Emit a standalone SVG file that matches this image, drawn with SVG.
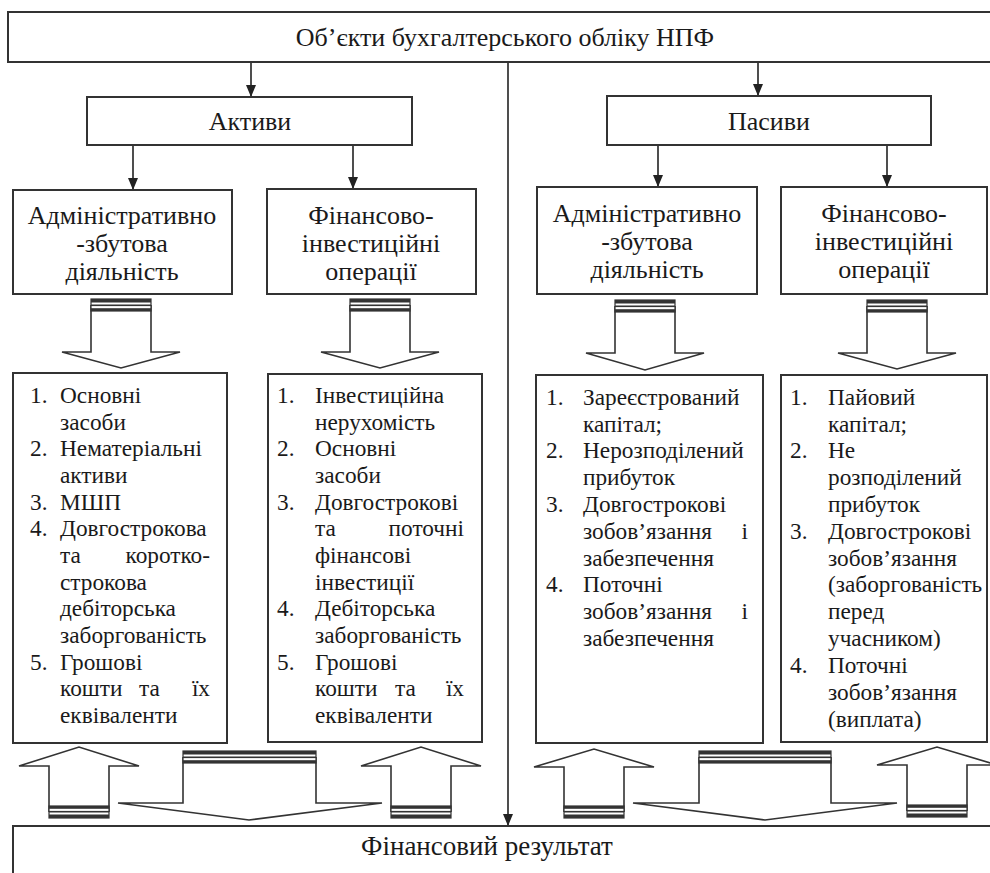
<svg xmlns="http://www.w3.org/2000/svg" xmlns:xlink="http://www.w3.org/1999/xlink" width="990" height="873" viewBox="0 0 990 873">
<style>
.box{fill:#fff;stroke:#333;stroke-width:2}
.ln{fill:none;stroke:#222;stroke-width:1.6}
.ba{fill:#fff;stroke:#333;stroke-width:1.6;stroke-linejoin:miter}
.dk{fill:#333}
.h{font-size:26px;text-anchor:middle}
.li{font-size:23.3px}
.e{text-anchor:end}
</style>
<defs>
<marker id="ah" viewBox="0 0 12 10" refX="12" refY="5" markerWidth="12" markerHeight="10" markerUnits="userSpaceOnUse" orient="auto">
<path d="M0,0 L12,5 L0,10 z" fill="#222"/>
</marker>
<g id="str">
<rect x="0" y="0" width="60" height="12" fill="#fff" stroke="#333" stroke-width="1.2"/>
<rect x="0" y="0" width="60" height="3.5" class="dk"/>
<rect x="0" y="5.5" width="60" height="1.6" class="dk"/>
<rect x="0" y="9.2" width="60" height="2.8" class="dk"/>
</g>
</defs>

<g id="connectors">
<line class="ln" x1="251" y1="62" x2="251" y2="97" marker-end="url(#ah)"/>
<line class="ln" x1="758" y1="62" x2="758" y2="96" marker-end="url(#ah)"/>
<line class="ln" x1="508" y1="62" x2="508" y2="826" marker-end="url(#ah)"/>
<line class="ln" x1="133" y1="145" x2="133" y2="190" marker-end="url(#ah)"/>
<line class="ln" x1="353" y1="145" x2="353" y2="189" marker-end="url(#ah)"/>
<line class="ln" x1="658" y1="145" x2="658" y2="187" marker-end="url(#ah)"/>
<line class="ln" x1="887" y1="145" x2="887" y2="187" marker-end="url(#ah)"/>

<path class="ba" d="M91,305 L91,352 L62,352 L121,368 L180,352 L151,352 L151,305"/>
<use xlink:href="#str" transform="translate(91,299)"/>
<path class="ba" d="M350,305 L350,352 L321,352 L380,368 L439,352 L410,352 L410,305"/>
<use xlink:href="#str" transform="translate(350,299)"/>
<path class="ba" d="M615,306 L615,353 L586,353 L645,370 L704,353 L675,353 L675,306"/>
<use xlink:href="#str" transform="translate(615,300)"/>
<path class="ba" d="M867,306 L867,353 L838,353 L897,369 L956,353 L927,353 L927,306"/>
<use xlink:href="#str" transform="translate(867,300)"/>

<path class="ba" d="M49,812 L49,766 L19,766 L79,747 L139,766 L109,766 L109,812"/>
<use xlink:href="#str" transform="translate(49,818) scale(1,-1)"/>
<path class="ba" d="M391,812 L391,766 L361,766 L421,747 L481,766 L451,766 L451,812"/>
<use xlink:href="#str" transform="translate(391,818) scale(1,-1)"/>
<path class="ba" d="M564,812 L564,767 L534,767 L594,749 L654,767 L624,767 L624,812"/>
<use xlink:href="#str" transform="translate(564,818) scale(1,-1)"/>
<path class="ba" d="M907,811 L907,765 L877,765 L937,747 L997,765 L967,765 L967,811"/>
<use xlink:href="#str" transform="translate(907,817) scale(1,-1)"/>

<path class="ba" d="M183,757 L183,803 L118,803 L249,820 L382,803 L316,803 L316,757"/>
<rect x="183" y="751" width="133" height="12" fill="#fff" stroke="#333" stroke-width="1.2"/>
<rect x="183" y="751" width="133" height="3.5" class="dk"/>
<rect x="183" y="756.5" width="133" height="1.6" class="dk"/>
<rect x="183" y="760.2" width="133" height="2.8" class="dk"/>
<path class="ba" d="M699,757 L699,803 L633,803 L765,820 L897,803 L831,803 L831,757"/>
<rect x="699" y="751" width="132" height="12" fill="#fff" stroke="#333" stroke-width="1.2"/>
<rect x="699" y="751" width="132" height="3.5" class="dk"/>
<rect x="699" y="756.5" width="132" height="1.6" class="dk"/>
<rect x="699" y="760.2" width="132" height="2.8" class="dk"/>
</g>

<g font-family="'Liberation Serif', 'Times New Roman', serif" fill="#1a1a1a">
<g id="top">
<rect class="box" x="8" y="12" width="990" height="50"/>
<text class="h" x="505" y="46">Об’єкти бухгалтерського обліку НПФ</text>
</g>

<g id="aktyvy">
<rect class="box" x="87" y="97" width="325" height="48"/>
<text class="h" x="250" y="130">Активи</text>
</g>
<g id="pasyvy">
<rect class="box" x="607" y="96" width="324" height="49"/>
<text class="h" x="769" y="130">Пасиви</text>
</g>

<g id="a-admin">
<rect class="box" x="13" y="190" width="219" height="104"/>
<text class="h" x="122" y="224">Адміністративно</text>
<text class="h" x="122" y="252">-збутова</text>
<text class="h" x="122" y="280">діяльність</text>
</g>
<g id="a-fin">
<rect class="box" x="267" y="189" width="209" height="105"/>
<text class="h" x="371" y="224">Фінансово-</text>
<text class="h" x="371" y="252">інвестиційні</text>
<text class="h" x="371" y="280">операції</text>
</g>
<g id="p-admin">
<rect class="box" x="537" y="187" width="220" height="107"/>
<text class="h" x="647" y="222">Адміністративно</text>
<text class="h" x="647" y="250">-збутова</text>
<text class="h" x="647" y="278">діяльність</text>
</g>
<g id="p-fin">
<rect class="box" x="781" y="187" width="206" height="107"/>
<text class="h" x="884" y="222">Фінансово-</text>
<text class="h" x="884" y="250">інвестиційні</text>
<text class="h" x="884" y="278">операції</text>
</g>

<g id="a-admin-list">
<rect class="box" x="13" y="373" width="214" height="370"/>
<text class="li" x="30" y="403">1.</text><text class="li" x="60" y="403">Основні</text>
<text class="li" x="60" y="430">засоби</text>
<text class="li" x="30" y="456">2.</text><text class="li" x="60" y="456">Нематеріальні</text>
<text class="li" x="60" y="483">активи</text>
<text class="li" x="30" y="510">3.</text><text class="li" x="60" y="510">МШП</text>
<text class="li" x="30" y="536">4.</text><text class="li" x="60" y="536">Довгострокова</text>
<text class="li" x="60" y="563">та</text><text class="li e" x="210" y="563">коротко-</text>
<text class="li" x="60" y="590">строкова</text>
<text class="li" x="60" y="616">дебіторська</text>
<text class="li" x="60" y="643">заборгованість</text>
<text class="li" x="30" y="670">5.</text><text class="li" x="60" y="670">Грошові</text>
<text class="li" x="60" y="696">кошти</text><text class="li" x="139" y="696">та</text><text class="li e" x="210" y="696">їх</text>
<text class="li" x="60" y="723">еквіваленти</text>
</g>

<g id="a-fin-list">
<rect class="box" x="268" y="374" width="214" height="368"/>
<text class="li" x="277" y="403">1.</text><text class="li" x="315" y="403">Інвестиційна</text>
<text class="li" x="315" y="430">нерухомість</text>
<text class="li" x="277" y="456">2.</text><text class="li" x="315" y="456">Основні</text>
<text class="li" x="315" y="483">засоби</text>
<text class="li" x="277" y="510">3.</text><text class="li" x="315" y="510">Довгострокові</text>
<text class="li" x="315" y="536">та</text><text class="li e" x="464" y="536">поточні</text>
<text class="li" x="315" y="563">фінансові</text>
<text class="li" x="315" y="590">інвестиції</text>
<text class="li" x="277" y="616">4.</text><text class="li" x="315" y="616">Дебіторська</text>
<text class="li" x="315" y="643">заборгованість</text>
<text class="li" x="277" y="670">5.</text><text class="li" x="315" y="670">Грошові</text>
<text class="li" x="315" y="696">кошти</text><text class="li" x="395" y="696">та</text><text class="li e" x="464" y="696">їх</text>
<text class="li" x="315" y="723">еквіваленти</text>
</g>

<g id="p-admin-list">
<rect class="box" x="536" y="375" width="227" height="368"/>
<text class="li" x="546" y="405">1.</text><text class="li" x="583" y="405">Зареєстрований</text>
<text class="li" x="583" y="432">капітал;</text>
<text class="li" x="546" y="458">2.</text><text class="li" x="583" y="458">Нерозподілений</text>
<text class="li" x="583" y="485">прибуток</text>
<text class="li" x="546" y="512">3.</text><text class="li" x="583" y="512">Довгострокові</text>
<text class="li" x="583" y="539">зобов’язання</text><text class="li e" x="748" y="539">і</text>
<text class="li" x="583" y="566">забезпечення</text>
<text class="li" x="546" y="592">4.</text><text class="li" x="583" y="592">Поточні</text>
<text class="li" x="583" y="619">зобов’язання</text><text class="li e" x="748" y="619">і</text>
<text class="li" x="583" y="646">забезпечення</text>
</g>

<g id="p-fin-list">
<rect class="box" x="781" y="375" width="206" height="367"/>
<text class="li" x="790" y="405">1.</text><text class="li" x="828" y="405">Пайовий</text>
<text class="li" x="828" y="432">капітал;</text>
<text class="li" x="790" y="458">2.</text><text class="li" x="828" y="458">Не</text>
<text class="li" x="828" y="485">розподілений</text>
<text class="li" x="828" y="512">прибуток</text>
<text class="li" x="790" y="539">3.</text><text class="li" x="828" y="539">Довгострокові</text>
<text class="li" x="828" y="566">зобов’язання</text>
<text class="li" x="828" y="592">(заборгованість</text>
<text class="li" x="828" y="619">перед</text>
<text class="li" x="828" y="646">учасником)</text>
<text class="li" x="790" y="673">4.</text><text class="li" x="828" y="673">Поточні</text>
<text class="li" x="828" y="700">зобов’язання</text>
<text class="li" x="828" y="727">(виплата)</text>
</g>

<g id="result">
<rect class="box" x="13" y="826" width="990" height="60"/>
<text class="h" x="487" y="855" style="font-size:27px">Фінансовий результат</text>
</g>
</g>
</svg>
